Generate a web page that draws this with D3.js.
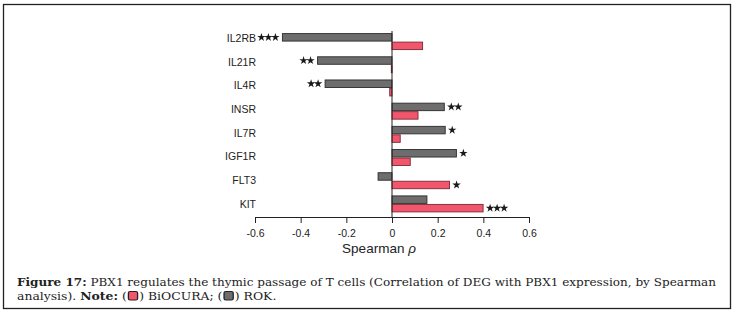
<!DOCTYPE html>
<html>
<head>
<meta charset="utf-8">
<script src="https://cdn.jsdelivr.net/npm/d3@7"></script>
<style>
  body { margin: 0; background: #fff; }
  svg { display: block; }
</style>
</head>
<body>
<svg id="chart" width="735" height="319"></svg>
<script>
// values
const genes = ["IL2RB", "IL21R", "IL4R", "INSR", "IL7R", "IGF1R", "FLT3", "KIT"];
const rokValues = [-0.48, -0.326, -0.293, 0.229, 0.233, 0.282, -0.061, 0.153];
const biocuraValues = [0.134, -0.003, -0.01, 0.114, 0.036, 0.08, 0.252, 0.399];
const rokStars = ["***", "**", "**", "**", "*", "*", "", ""];
const biocuraStars = ["", "", "", "", "", "", "*", "***"];
const xTicks = [-0.6, -0.4, -0.2, 0, 0.2, 0.4, 0.6];

let svg = d3.select("#chart");

// frame round the figure
svg.append("rect")
    .attr("x", 3.5).attr("y", 4.5)
    .attr("width", 727).attr("height", 304)
    .attr("fill", "none").attr("stroke", "#222").attr("stroke-width", 1.3);

let x = d3.scaleLinear().domain([-0.6, 0.6]).range([255, 529]);
let y = d3.scaleBand().domain(genes).range([30, 215.5]);
// labels sit on a slightly wider spacing than the bars
let yLabel = d3.scalePoint().domain(genes).range([38, 203.5]);
let barH = 7.5;

let rows = genes.map((g, i) => ({
    gene: g, rok: rokValues[i], bio: biocuraValues[i],
    rokSig: rokStars[i], bioSig: biocuraStars[i]
}));

let mid = g => y(g) + y.bandwidth() / 2;

// gray bars (ROK) sit above, red bars (BiOCURA) below
svg.append("g").selectAll("rect")
    .data(rows).enter().append("rect")
    .attr("x", d => x(Math.min(0, d.rok)))
    .attr("y", d => mid(d.gene) - barH - 0.5)
    .attr("width", d => Math.abs(x(d.rok) - x(0)))
    .attr("height", barH)
    .attr("fill", "#6d6d6d").attr("stroke", "#2b2b2b").attr("stroke-width", 0.9);

svg.append("g").selectAll("rect")
    .data(rows).enter().append("rect")
    .attr("x", d => x(Math.min(0, d.bio)))
    .attr("y", d => mid(d.gene) + 0.5)
    .attr("width", d => Math.max(0.8, Math.abs(x(d.bio) - x(0))))
    .attr("height", barH)
    .attr("fill", "#f2566c").attr("stroke", "#7a2a33").attr("stroke-width", 0.9);

// significance stars
let star = d3.symbol().type(d3.symbolStar).size(22);
function addStars(value, sig, cy) {
    let n = sig.length;
    if (!n) return;
    let dir = value < 0 ? -1 : 1;
    let start = x(value) + dir * 7;
    for (let k = 0; k < n; k++) {
        svg.append("path")
            .attr("d", star)
            .attr("transform", `translate(${start + dir * k * 7},${cy})`)
            .attr("fill", "#1a1a1a");
    }
}
rows.forEach(d => {
    addStars(d.rok, d.rokSig, mid(d.gene) - barH / 2 - 0.5);
    addStars(d.bio, d.bioSig, mid(d.gene) + barH / 2 + 0.5);
});

// zero line
svg.append("line")
    .attr("x1", x(0)).attr("x2", x(0))
    .attr("y1", 31).attr("y2", 217)
    .attr("stroke", "#222").attr("stroke-width", 1);

// gene labels
svg.append("g").selectAll("text")
    .data(genes).enter().append("text")
    .attr("x", 256)
    .attr("y", g => yLabel(g))
    .attr("text-anchor", "end")
    .attr("dominant-baseline", "central")
    .attr("font-family", "Liberation Sans, Arial, sans-serif")
    .attr("font-size", 10.5)
    .attr("fill", "#222")
    .text(g => g);

// x axis, hyphen minus like the original
let xAxis = d3.axisBottom(x)
    .tickValues(xTicks)
    .tickSize(6)
    .tickSizeOuter(0)
    .tickFormat(d => d === 0 ? "0" : d3.format(".1f")(d).replace("\u2212", "-"));

let axisG = svg.append("g")
    .attr("transform", "translate(0,217)")
    .call(xAxis);
axisG.select(".domain").attr("stroke", "#222");
axisG.selectAll(".tick line").attr("stroke", "#222");
axisG.selectAll(".tick text")
    .attr("font-family", "Liberation Sans, Arial, sans-serif")
    .attr("font-size", 10.5)
    .attr("fill", "#222")
    .attr("dy", "1.05em");

let title = svg.append("text")
    .attr("x", 379).attr("y", 253)
    .attr("text-anchor", "middle")
    .attr("font-family", "Liberation Sans, Arial, sans-serif")
    .attr("font-size", 13.5)
    .attr("fill", "#222");
title.append("tspan").text("Spearman ");
title.append("tspan").attr("font-style", "italic").text("ρ");

// caption
let serif = "DejaVu Serif, Liberation Serif, serif";
let capSize = 11.5;
let cap1 = svg.append("text")
    .attr("x", 17).attr("y", 286)
    .attr("font-family", serif).attr("font-size", capSize).attr("fill", "#222")
    .attr("textLength", 699).attr("lengthAdjust", "spacingAndGlyphs");
cap1.append("tspan").attr("font-weight", "bold").text("Figure 17:");
cap1.append("tspan").text(" PBX1 regulates the thymic passage of T cells (Correlation of DEG with PBX1 expression, by Spearman");

// second line is set a little wider in the original face
let line2 = svg.append("g").attr("transform", "translate(17,300) scale(1.08,1)");
let cap2 = line2.append("text")
    .attr("font-family", serif).attr("font-size", capSize).attr("fill", "#222");
cap2.append("tspan").text("analysis). ");
cap2.append("tspan").attr("font-weight", "bold").text("Note:");
cap2.append("tspan").text(" (\u2003) BiOCURA; (\u2003) ROK.");

// legend swatches inside the caption brackets
let legendSeries = [
    {fill: "#f2566c", word: "analysis). Note: ("},
    {fill: "#6d6d6d", word: "analysis). Note: (\u2003) BiOCURA; ("}
];
let measure = line2.append("text")
    .attr("font-family", serif).attr("font-size", capSize)
    .attr("visibility", "hidden");
legendSeries.forEach(s => {
    measure.selectAll("tspan").remove();
    let parts = s.word.split("Note:");
    measure.append("tspan").text(parts[0]);
    measure.append("tspan").attr("font-weight", "bold").text("Note:");
    measure.append("tspan").text(parts[1]);
    let w = measure.node().getComputedTextLength();
    line2.append("rect")
        .attr("x", w + 1.5).attr("y", -8.5)
        .attr("width", 8.5).attr("height", 8.5).attr("rx", 1.5)
        .attr("fill", s.fill).attr("stroke", "#222").attr("stroke-width", 1.2);
});
measure.remove();
</script>
</body>
</html>
